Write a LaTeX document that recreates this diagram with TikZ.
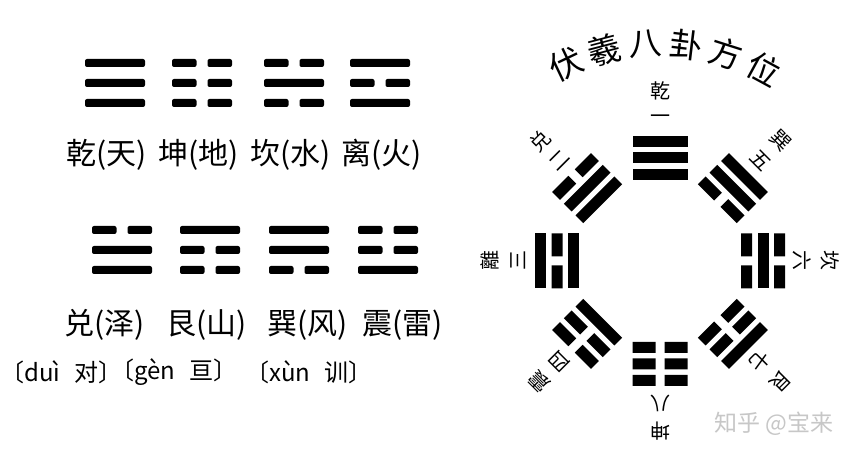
\documentclass[tikz,border=0pt]{standalone}
\usepackage{fontspec}
\newfontfamily\cjk{Noto Sans CJK SC}
\usepackage{tikz}

% one line of a trigram: 1 = solid, 0 = broken
\newcommand{\yaoL}[3]{\ifnum#1=1 \fill[rounded corners=2pt] (#2-30,#3-4) rectangle (#2+30,#3+4);
  \else \fill[rounded corners=2pt] (#2-30,#3-4) rectangle (#2-5.5,#3+4) (#2+5.5,#3-4) rectangle (#2+30,#3+4);\fi}
\newcommand{\yaoR}[2]{\ifnum#1=1 \fill (-27.5,#2-5.5) rectangle (27.5,#2+5.5);
  \else \fill (-27.5,#2-5.5) rectangle (-4.5,#2+5.5) (4.5,#2-5.5) rectangle (27.5,#2+5.5);\fi}

\begin{document}
\begin{tikzpicture}[x=1pt,y=1pt,
  guaname/.style={font=\cjk\fontsize{30}{32}\selectfont,anchor=west,inner sep=0pt},
  pinyin/.style={font=\cjk\fontsize{24}{26}\selectfont,anchor=west,inner sep=0pt},
  numlbl/.style={font=\cjk\fontsize{20}{22}\selectfont,inner sep=0pt,transform shape},
  titlech/.style={font=\cjk\fontsize{33}{35}\selectfont,inner sep=0pt}]
\fill[white] (0,0) rectangle (865,458);
\useasboundingbox (0,0) rectangle (865,458);

% left: the eight trigrams with names
\foreach \cx/\t/\m/\b in {115/1/1/1, 202/0/0/0, 294/0/1/0, 380/1/0/1}
  {\yaoL{\t}{\cx}{395} \yaoL{\m}{\cx}{375} \yaoL{\b}{\cx}{355}}
\foreach \cx/\t/\m/\b in {122/0/1/1, 210/1/0/0, 299/1/1/0, 388/0/0/1}
  {\yaoL{\t}{\cx}{228} \yaoL{\m}{\cx}{208} \yaoL{\b}{\cx}{188}}

\node[guaname] (qian) at (66,303) {乾(天)};
\node[guaname] (kun) at (158,303) {坤(地)};
\node[guaname] (kan) at (250,303) {坎(水)};
\node[guaname] (li) at (341,303) {离(火)};
\node[guaname] (dui) at (64,133) {兑(泽)};
\node[guaname] (gen) at (166,133) {艮(山)};
\node[guaname] (xun) at (267,133) {巽(风)};
\node[guaname] (zhen) at (362,133) {震(雷)};

\node[pinyin] (pydui) at (0,86) {〔duì\hspace{0.6em}对〕};
\node[pinyin] (pygen) at (110,86) {〔gèn\hspace{0.6em}亘〕};
\node[pinyin] (pyxun) at (245,86) {〔xùn\hspace{0.6em}训〕};

% right: Fuxi circle
\foreach \ang/\a/\b/\c/\nm/\num/\id in {90/1/1/1/乾/一/qian, 135/1/1/0/兑/二/dui,
    180/1/0/1/離/三/li, 225/1/0/0/震/四/zhen, 45/0/1/1/巽/五/xun,
    0/0/1/0/坎/六/kan, -45/0/0/1/艮/七/gen, 270/0/0/0/坤/八/kun}
  {\begin{scope}[shift={(660,197)},rotate=\ang-90]
    \yaoR{\a}{86.5} \yaoR{\b}{103} \yaoR{\c}{119.5}
    \node[numlbl] (n\id) at (0,142) {\num};
    \node[numlbl] (g\id) at (0,170) {\nm};
  \end{scope}}

\begin{scope}[shift={(660,197)}]
\foreach \ch [count=\i] in {伏,羲,八,卦,方,位}
  \node[titlech,rotate={36.3-10.8*\i}] (t\i) at ({126.3-10.8*\i}:218) {\ch};
\end{scope}

\node[font=\cjk\fontsize{23}{25}\selectfont,text=black!22,inner sep=0pt] (mark) at (774,34) {知乎 @宝来};
\end{tikzpicture}
\end{document}
